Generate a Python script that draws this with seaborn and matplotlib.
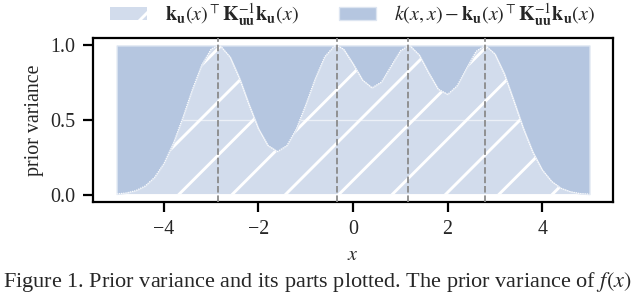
import numpy as np
import pandas as pd
import seaborn as sns
import matplotlib.pyplot as plt
from matplotlib.patches import Patch

# values
x_grid = [-5.0, -4.8, -4.6, -4.4, -4.2, -4.0, -3.8, -3.6, -3.4, -3.2, -3.0, -2.86,
          -2.8, -2.6, -2.4, -2.2, -2.0, -1.8, -1.6, -1.4, -1.2, -1.0, -0.8, -0.6,
          -0.4, -0.34, -0.2, 0.0, 0.2, 0.4, 0.6, 0.8, 1.0, 1.17, 1.2, 1.4, 1.6, 1.8,
          2.0, 2.2, 2.4, 2.6, 2.78, 2.8, 3.0, 3.2, 3.4, 3.6, 3.8, 4.0, 4.2, 4.4,
          4.6, 4.8, 5.0]
nystrom_var = [0.004, 0.011, 0.026, 0.057, 0.115, 0.209, 0.345, 0.517, 0.704, 0.870, 0.977, 1.0,
               0.995, 0.922, 0.778, 0.603, 0.441, 0.329, 0.289, 0.329, 0.441, 0.603, 0.778, 0.925,
               0.996, 1.0, 0.975, 0.877, 0.768, 0.716, 0.755, 0.860, 0.964, 1.0, 0.999, 0.936, 0.816, 0.707,
               0.672, 0.730, 0.848, 0.960, 1.0, 0.999, 0.943, 0.809, 0.629, 0.445, 0.286, 0.166, 0.088, 0.042,
               0.019, 0.007, 0.003]
prior_var = 1.0
inducing_x = [-2.86, -0.34, 1.17, 2.78]
x_ticks = [-4, -2, 0, 2, 4]
y_ticks = [0.0, 0.5, 1.0]

labels = [r'$\mathbf{k}_{\mathbf{u}}(x)^{\top}\mathbf{K}_{\mathbf{uu}}^{-1}\mathbf{k}_{\mathbf{u}}(x)$',
          r'$k(x,x) - \mathbf{k}_{\mathbf{u}}(x)^{\top}\mathbf{K}_{\mathbf{uu}}^{-1}\mathbf{k}_{\mathbf{u}}(x)$']
caption = 'Figure 1. Prior variance and its parts plotted. The prior variance of $f(x)$'

light = '#d2dcec'
dark = '#b5c6e0'
edge = '#dde5f1'

sns.set_theme(style='ticks')
plt.rcParams['font.family'] = ['Liberation Serif', 'DejaVu Serif']
plt.rcParams['mathtext.fontset'] = 'stix'
plt.rcParams['hatch.linewidth'] = 1.3

df = pd.DataFrame({'x': x_grid, 'q': nystrom_var})

fig = plt.figure(figsize=(4.0, 1.83125), dpi=160)
ax = fig.add_axes([0.1453, 0.3106, 0.8127, 0.5597])

# explained part (hatched) and remaining part (solid)
ax.fill_between(df['x'], 0, df['q'], facecolor=light, edgecolor='white',
                hatch='/', linewidth=0.4, zorder=1)
ax.axhline(0.5, color='white', lw=0.6, alpha=0.6, zorder=2)
ax.fill_between(df['x'], df['q'], prior_var, facecolor=dark, edgecolor=edge,
                linewidth=0.6, zorder=3)
sns.lineplot(data=df, x='x', y='q', color='white', lw=0.5, ls=(0, (1, 1)),
             ax=ax, zorder=4)
for z in inducing_x:
    ax.axvline(z, color='#8a8a8a', ls='--', lw=0.8, zorder=5)

ax.set_xlim(-5.5, 5.5)
ax.set_ylim(-0.05, 1.05)
ax.set_xticks(x_ticks)
ax.set_yticks(y_ticks)
ax.set_yticklabels(['0.0', '0.5', '1.0'])
ax.tick_params(labelsize=9, length=4.6, width=1.0, color='black', pad=3.5)
for s in ax.spines.values():
    s.set_linewidth(1.0)
    s.set_color('black')
ax.set_xlabel('$x$', fontsize=9, labelpad=3)
ax.set_ylabel('prior variance', fontsize=9)
ax.yaxis.set_label_coords(-0.094, 0.5)

handles = [Patch(facecolor=light, edgecolor='white', hatch='/', lw=0),
           Patch(facecolor=dark, edgecolor=edge, lw=0.6)]
fig.legend(handles, labels, loc='center', bbox_to_anchor=(353 / 640, 1 - 15 / 293),
           ncol=2, frameon=False, fontsize=9, handlelength=1.85, handleheight=0.6,
           handletextpad=0.9, columnspacing=2.0)

fig.text(0.004, 1 - 287 / 293, caption, fontsize=10, va='baseline', ha='left')

fig.savefig('out.png', dpi=160)
